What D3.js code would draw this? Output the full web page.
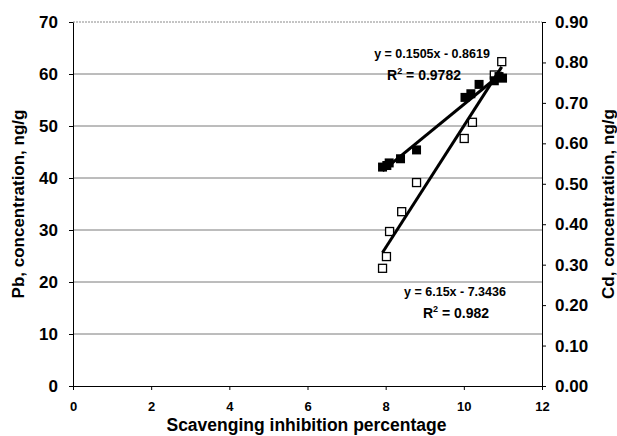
<!DOCTYPE html>
<html>
<head>
<meta charset="utf-8">
<script src="https://cdn.jsdelivr.net/npm/d3@7"></script>
<style>
  body { margin: 0; background: #fff; }
  text { font-family: "Liberation Sans", Arial, sans-serif; font-weight: bold; fill: #000; }
</style>
</head>
<body>
<svg id="chart" width="617" height="436"></svg>
<script>
// tick values
const xTicks = [0, 2, 4, 6, 8, 10, 12];
const pbTicks = [0, 10, 20, 30, 40, 50, 60, 70];
const cdTicks = [0, 0.1, 0.2, 0.3, 0.4, 0.5, 0.6, 0.7, 0.8, 0.9];

// Pb (filled squares, left axis)
const pbX = [7.92, 8.03, 8.09, 8.38, 8.79, 10.03, 10.18, 10.39, 10.78, 10.9, 10.99];
const pbY = [42.1, 42.4, 42.9, 43.7, 45.4, 55.5, 56.2, 58.0, 58.7, 59.5, 59.2];

// Cd (open squares, right axis)
const cdX = [7.92, 8.02, 8.10, 8.41, 8.79, 10.01, 10.22, 10.78, 10.97];
const cdY = [0.291, 0.320, 0.382, 0.431, 0.503, 0.612, 0.652, 0.769, 0.802];

// linear trendlines: [slope, intercept], R squared
const pbFit = [6.15, -7.3436], pbR2 = "0.982";
const cdFit = [0.1505, -0.8619], cdR2 = "0.9782";

const svg = d3.select("#chart"),
  margin = {top: 22, left: 73, bottom: 50, right: 75},
  width = +svg.attr("width"),
  height = +svg.attr("height");

var x = d3.scaleLinear().domain([0, 12]).range([margin.left, width - margin.right]);
var yL = d3.scaleLinear().domain([0, 70]).range([height - margin.bottom, margin.top]);
var yR = d3.scaleLinear().domain([0, 0.9]).range([height - margin.bottom, margin.top]);

// gridlines
svg.append("g").selectAll("line")
  .data(pbTicks.filter(t => t > 0 && t < 70)).enter().append("line")
  .attr("x1", x(0)).attr("x2", x(12))
  .attr("y1", d => yL(d)).attr("y2", d => yL(d))
  .attr("stroke", "#7a7a7a").attr("stroke-width", 1);

// top border (dotted)
svg.append("line")
  .attr("x1", x(0)).attr("x2", x(12))
  .attr("y1", yL(70)).attr("y2", yL(70))
  .attr("stroke", "#8a8a8a").attr("stroke-dasharray", "2,1");

// axes
var xAxis = svg.append("g")
  .attr("transform", `translate(0,${yL(0)})`)
  .call(d3.axisBottom(x).tickValues(xTicks).tickSize(4).tickSizeOuter(0).tickFormat(d3.format("d")));
xAxis.selectAll("text").attr("font-size", 13).attr("dy", "1.4em");

var yAxisL = svg.append("g")
  .attr("transform", `translate(${x(0)},0)`)
  .call(d3.axisLeft(yL).tickValues(pbTicks).tickSize(4).tickSizeOuter(0).tickFormat(d3.format("d")));
yAxisL.selectAll("text").attr("font-size", 17).attr("x", -15);

var yAxisR = svg.append("g")
  .attr("transform", `translate(${x(12)},0)`)
  .call(d3.axisRight(yR).tickValues(cdTicks).tickSize(4).tickSizeOuter(0).tickFormat(d3.format(".2f")));
yAxisR.selectAll("text").attr("font-size", 17).attr("x", 13);

svg.selectAll(".domain").attr("stroke", "#000");
svg.selectAll(".tick line").attr("stroke", "#000");

// markers
svg.append("g").selectAll("rect")
  .data(cdX.map((v, i) => [v, cdY[i]])).enter().append("rect")
  .attr("x", d => x(d[0]) - 4).attr("y", d => yR(d[1]) - 4)
  .attr("width", 8).attr("height", 8)
  .attr("fill", "#fff").attr("stroke", "#000").attr("stroke-width", 1.3);

svg.append("g").selectAll("rect")
  .data(pbX.map((v, i) => [v, pbY[i]])).enter().append("rect")
  .attr("x", d => x(d[0]) - 4.5).attr("y", d => yL(d[1]) - 4.5)
  .attr("width", 9).attr("height", 9)
  .attr("fill", "#000");

// trendlines
function trend(xs, fit, yScale) {
  var ext = d3.extent(xs);
  svg.append("line")
    .attr("x1", x(ext[0])).attr("y1", yScale(fit[0] * ext[0] + fit[1]))
    .attr("x2", x(ext[1])).attr("y2", yScale(fit[0] * ext[1] + fit[1]))
    .attr("stroke", "#000").attr("stroke-width", 3);
}
trend(pbX, pbFit, yL);
trend(cdX, cdFit, yR);

// equation labels
function eqLabel(cx, by, rcx, fit, r2) {
  var sign = fit[1] < 0 ? " - " : " + ";
  svg.append("text").attr("x", cx).attr("y", by).attr("text-anchor", "middle")
    .attr("font-size", 12.5)
    .text(`y = ${fit[0]}x${sign}${Math.abs(fit[1])}`);
  var t = svg.append("text").attr("x", rcx).attr("y", by + 22).attr("text-anchor", "middle")
    .attr("font-size", 14);
  t.append("tspan").text("R");
  t.append("tspan").attr("font-size", 9).attr("dy", -6).text("2");
  t.append("tspan").attr("dy", 6).text(` = ${r2}`);
}
eqLabel(432, 58, 424, cdFit, cdR2);
eqLabel(455, 296, 456, pbFit, pbR2);

// axis titles
svg.append("text")
  .attr("transform", `translate(24,${(yL(0) + yL(70)) / 2}) rotate(-90)`)
  .attr("text-anchor", "middle").attr("font-size", 17)
  .text("Pb, concentration, ng/g");

svg.append("text")
  .attr("transform", `translate(614,${(yR(0) + yR(0.9)) / 2}) rotate(-90)`)
  .attr("text-anchor", "middle").attr("font-size", 17)
  .text("Cd, concentration, ng/g");

svg.append("text")
  .attr("x", (x(0) + x(12)) / 2 - 1).attr("y", 431)
  .attr("text-anchor", "middle").attr("font-size", 17.5)
  .text("Scavenging inhibition percentage");
</script>
</body>
</html>
